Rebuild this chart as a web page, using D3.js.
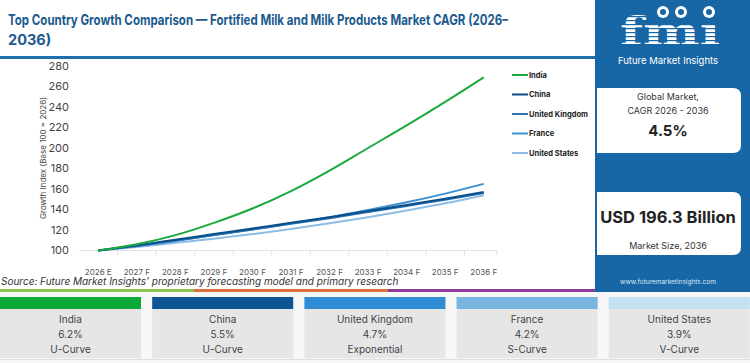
<!DOCTYPE html>
<html><head><meta charset="utf-8">
<script src="https://cdn.jsdelivr.net/npm/d3@7/dist/d3.min.js"></script>
<style>
html,body{margin:0;padding:0;background:#fff;}
svg{display:block;font-family:Inter,"Open Sans",sans-serif;}
</style></head><body>
<svg id="c" width="750" height="363"></svg>
<script>
const years = ["2026 E","2027 F","2028 F","2029 F","2030 F","2031 F","2032 F","2033 F","2034 F","2035 F","2036 F"];
const countries = ["India","China","United Kingdom","France","United States"];
const india  = [100,106,115,127,141,158,178,200,222,245,269];
const china  = [100,105,110.5,116,121.5,127,132.5,138.5,144.5,150.5,157];
const uk     = [100,104.5,109.5,115,120.5,126,131.5,137.5,143.5,149.5,156];
const france = [100,104.5,109.5,115,120.5,126.5,132.5,139.5,147,155.5,165];
const us     = [100,103.5,107.5,111.5,116,121,126.5,132.5,139,146,154];
const yTicks = [100,120,140,160,180,200,220,240,260,280];
const cagr   = ["6.2%","5.5%","4.7%","4.2%","3.9%"];
const curves = ["U-Curve","U-Curve","Exponential","S-Curve","V-Curve"];
const lineColors = ["#1aaa3c","#0b4f8a","#2a74b6","#3d90d0","#8dbde4"];
const headColors = ["#0aa838","#0e5593","#2e8bd4","#79b5e0","#c3e2f1"];
const globalCagr = "4.5%";
const marketSize = "USD 196.3 Billion";
const series = [india, china, uk, france, us];

const svg = d3.select("#c");
svg.append("rect").attr("x",0).attr("y",0).attr("width",750).attr("height",363).attr("fill","#f7f7f7");
svg.append("rect").attr("x",0).attr("y",0).attr("width",595).attr("height",290).attr("fill","#fff");
const title = svg.append("text").attr("fill","#1b5a8e").attr("font-size",14.5).attr("font-weight",700);
title.append("tspan").attr("x",8).attr("y",25).attr("textLength",500).attr("lengthAdjust","spacingAndGlyphs")
  .text("Top Country Growth Comparison — Fortified Milk and Milk Products Market CAGR (2026–");
title.append("tspan").attr("x",8).attr("y",45).text("2036)");
svg.append("rect").attr("x",0).attr("y",56).attr("width",595).attr("height",3).attr("fill","#1f6fad");

const x = d3.scaleBand().domain(years).range([79,503]);
const y = d3.scaleLinear().domain([100,280]).range([250.5,66]);
const cx = d => x(d) + x.bandwidth()/2;

svg.append("g").selectAll("text").data(yTicks).join("text")
  .attr("x",69).attr("y",d=>y(d)).attr("dy","0.35em").attr("text-anchor","end")
  .attr("font-size",11).attr("fill","#444").text(d=>d);
svg.append("text").attr("transform","translate(46,158) rotate(-90)").attr("text-anchor","middle")
  .attr("font-size",8).attr("fill","#444").text("Growth Index (Base 100 = 2026)");

const xg = svg.append("g").attr("transform","translate(0,250.5)");
xg.append("line").attr("x1",79).attr("x2",497).attr("stroke","#e2e2e2");
xg.selectAll("line.t").data(years.slice(1)).join("line").attr("class","t")
  .attr("x1",d=>x(d)).attr("x2",d=>x(d)).attr("y1",0).attr("y2",5).attr("stroke","#e2e2e2");
xg.append("line").attr("x1",497).attr("x2",497).attr("y1",0).attr("y2",5).attr("stroke","#e2e2e2");
xg.selectAll("text").data(years).join("text").attr("x",d=>cx(d)).attr("y",24)
  .attr("text-anchor","middle").attr("font-size",8).attr("fill","#555").text(d=>d);

const line = d3.line().x((d,i)=>cx(years[i])).y(d=>y(d)).curve(d3.curveMonotoneX);
[4,3,2,1,0].forEach(k=>{
  svg.append("path").attr("d",line(series[k])).attr("fill","none")
    .attr("stroke",lineColors[k]).attr("stroke-width",2);
});

const lg = svg.append("g");
countries.forEach((c,i)=>{
  const ly = 75 + i*19.5;
  lg.append("line").attr("x1",512).attr("x2",528).attr("y1",ly).attr("y2",ly)
    .attr("stroke",lineColors[i]).attr("stroke-width",2);
  lg.append("text").attr("x",529).attr("y",ly).attr("dy","0.35em").attr("font-size",7.5)
    .attr("font-weight",700).attr("fill","#222").text(c);
});

svg.append("text").attr("x",1).attr("y",285).attr("font-size",10).attr("font-style","italic")
  .attr("fill","#333").text("Source: Future Market Insights’ proprietary forecasting model and primary research");
svg.append("rect").attr("x",0).attr("y",289).attr("width",194).attr("height",3).attr("fill","#8bc34a");
svg.append("rect").attr("x",194).attr("y",289).attr("width",194).attr("height",3).attr("fill","#e0703a");
svg.append("rect").attr("x",388).attr("y",289).attr("width",207).attr("height",3).attr("fill","#8e3a98");

svg.append("rect").attr("x",595).attr("y",0).attr("width",155).attr("height",292).attr("fill","#1766a6");
const logo = svg.append("g");
logo.append("text").attr("x",620).attr("y",45).attr("font-size",40)
  .attr("font-weight",700).attr("font-family","DejaVu Serif").attr("fill","#fff")
  .attr("textLength",100).attr("lengthAdjust","spacingAndGlyphs").text("fmı");
for(let yy=16; yy<48; yy+=4){
  logo.append("rect").attr("x",615).attr("y",yy).attr("width",112).attr("height",1.2).attr("fill","#1766a6");
}
[[663,12],[681,12],[709,12]].forEach(p=>{
  logo.append("circle").attr("cx",p[0]).attr("cy",p[1]).attr("r",6).attr("fill","#fff");
  logo.append("circle").attr("cx",p[0]).attr("cy",p[1]).attr("r",3).attr("fill","#1766a6");
});
svg.append("text").attr("x",668).attr("y",64).attr("text-anchor","middle").attr("font-size",9.5)
  .attr("fill","#fff").text("Future Market Insights");

svg.append("path").attr("d","M597,88 H733 Q741,88 741,96 V145 Q741,153 733,153 H597 Z").attr("fill","#fff");
svg.append("text").attr("x",668).attr("y",100).attr("text-anchor","middle").attr("font-size",9).attr("fill","#333").text("Global Market,");
svg.append("text").attr("x",668).attr("y",114).attr("text-anchor","middle").attr("font-size",9).attr("fill","#333").text("CAGR 2026 - 2036");
svg.append("text").attr("x",668).attr("y",136).attr("text-anchor","middle").attr("font-size",15).attr("font-weight",700).attr("fill","#222").text(globalCagr);
svg.append("path").attr("d","M597,192 H733 Q741,192 741,200 V247 Q741,255 733,255 H597 Z").attr("fill","#fff");
svg.append("text").attr("x",668).attr("y",223).attr("text-anchor","middle").attr("font-size",16.5).attr("font-weight",700).attr("fill","#222").text(marketSize);
svg.append("text").attr("x",668).attr("y",249).attr("text-anchor","middle").attr("font-size",9).attr("fill","#333").text("Market Size, 2036");
svg.append("text").attr("x",668).attr("y",284).attr("text-anchor","middle").attr("font-size",6.5).attr("fill","#dce9f5").text("www.futuremarketinsights.com");

countries.forEach((c,i)=>{
  const bx = i*152.2;
  const g = svg.append("g");
  g.append("rect").attr("x",bx).attr("y",297).attr("width",141).attr("height",61).attr("fill","#e6e6e6");
  g.append("rect").attr("x",bx).attr("y",297).attr("width",141).attr("height",12).attr("fill",headColors[i]);
  [[c,319],[cagr[i],334],[curves[i],349]].forEach(t=>{
    g.append("text").attr("x",bx+70.5).attr("y",t[1]).attr("dy","0.35em").attr("text-anchor","middle")
      .attr("font-size",10).attr("fill","#444").text(t[0]);
  });
});
svg.append("rect").attr("x",0).attr("y",359).attr("width",750).attr("height",1).attr("fill","#ddd");
</script></body></html>
